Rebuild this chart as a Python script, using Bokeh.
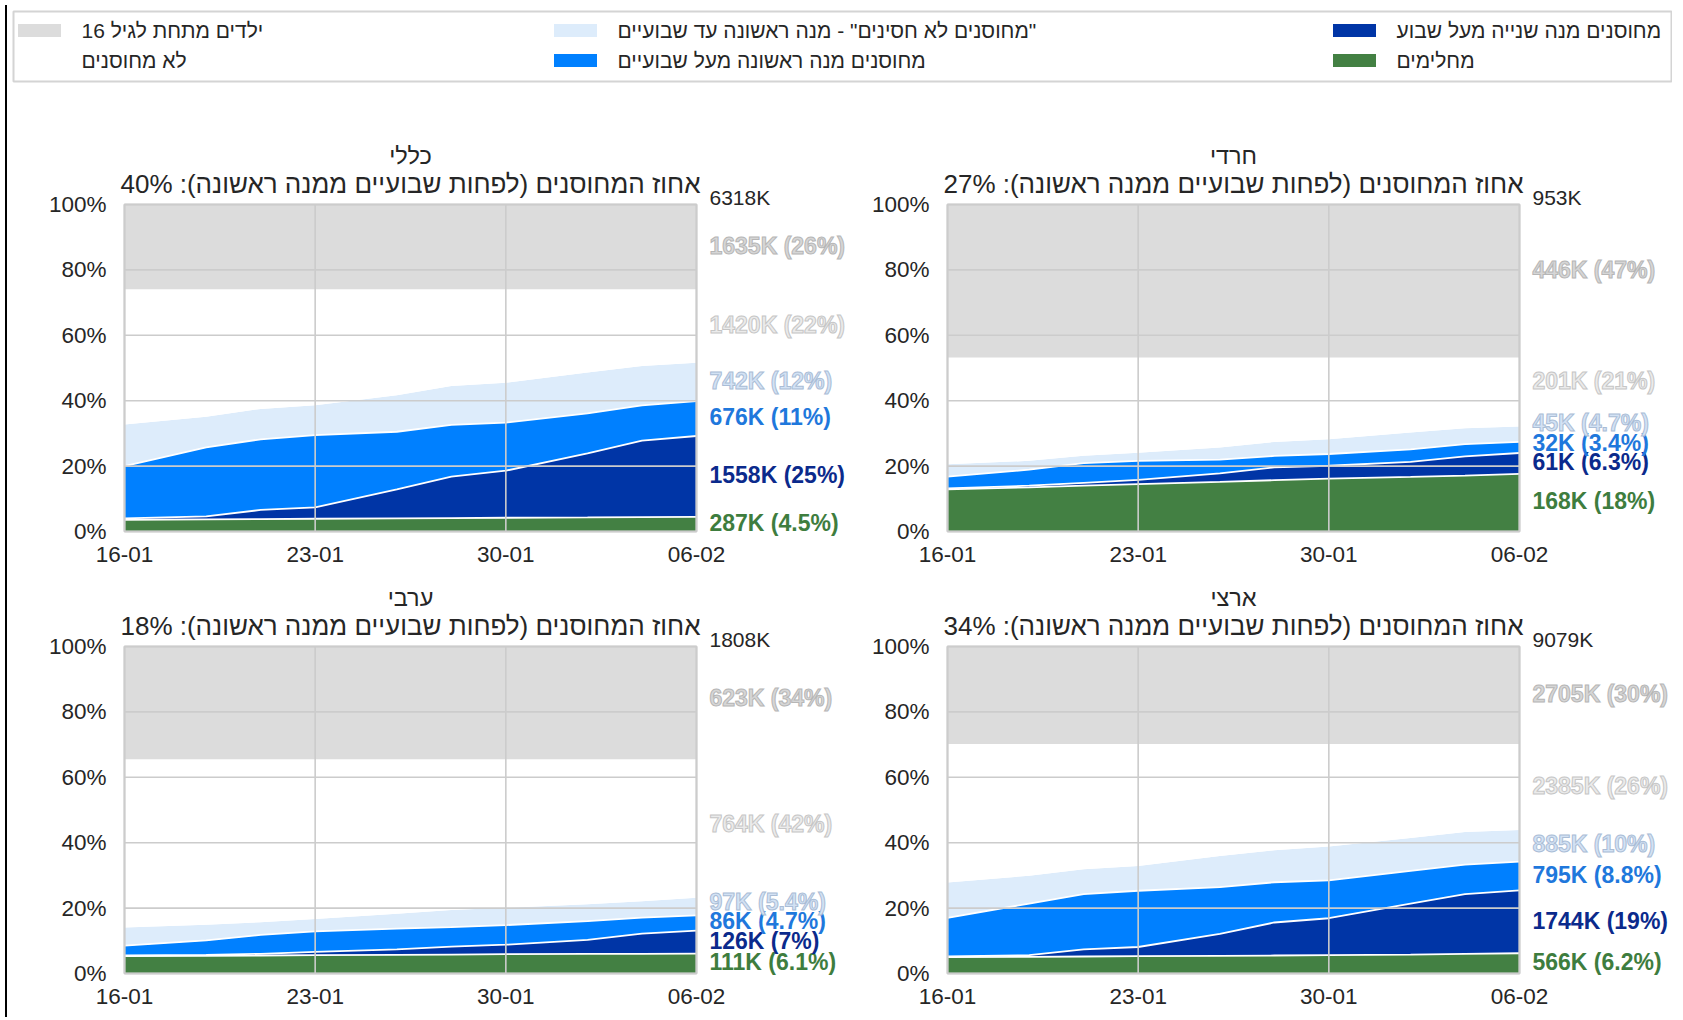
import numpy as np
import pandas as pd
from bokeh.plotting import figure
from bokeh.layouts import column, row
from bokeh.models import (ColumnDataSource, Range1d, FixedTicker, DatetimeTickFormatter,
                          PrintfTickFormatter, Label, Div)
from bokeh.embed import file_html
from bokeh.resources import INLINE

FONT = "Liberation Sans"

# ---------------- data ----------------
dates = ["2021-01-16", "2021-01-19", "2021-01-21", "2021-01-23", "2021-01-26",
         "2021-01-28", "2021-01-30", "2021-02-02", "2021-02-04", "2021-02-06"]
x_tick_dates = ["2021-01-16", "2021-01-23", "2021-01-30", "2021-02-06"]
y_ticks = [0, 20, 40, 60, 80, 100]

layer_keys = ["recovered", "dose2", "dose1", "dose1_recent", "unvaccinated", "under16"]
legend_labels = ["מחלימים", "מחוסנים מנה שנייה מעל שבוע", "מחוסנים מנה ראשונה מעל שבועיים",
                 "\u200f\"מחוסנים לא חסינים\" - מנה ראשונה עד שבועיים", "לא מחוסנים",
                 "ילדים מתחת לגיל 16"]

# percent of population per layer (כללי)
general_recovered = [3.6, 3.7, 3.8, 3.9, 4.0, 4.1, 4.2, 4.3, 4.4, 4.5]
general_dose2 = [0.4, 0.9, 2.8, 3.5, 8.9, 12.7, 14.4, 19.6, 23.4, 24.7]
general_dose1 = [16.0, 21.1, 21.6, 22.1, 17.6, 15.8, 14.7, 12.2, 10.8, 10.7]
general_dose1_recent = [12.7, 9.4, 9.3, 9.1, 11.2, 11.9, 12.2, 12.5, 12.0, 11.7]
general_unvaccinated = [41.4, 39.0, 36.6, 35.5, 32.4, 29.6, 28.6, 25.5, 23.5, 22.5]
general_under16 = [25.9, 25.9, 25.9, 25.9, 25.9, 25.9, 25.9, 25.9, 25.9, 25.9]
general_counts = [287, 1558, 676, 742, 1420, 1635]
general_pcts = [4.5, 25, 11, 12, 22, 26]
general_total = 6318
general_vaccinated_pct = 40

# חרדי
haredi_recovered = [12.9, 13.5, 14.0, 14.5, 15.2, 15.7, 16.2, 16.7, 17.1, 17.6]
haredi_dose2 = [0.3, 0.5, 0.9, 1.3, 2.6, 3.9, 3.9, 4.6, 5.9, 6.4]
haredi_dose1 = [3.6, 4.9, 6.0, 5.8, 4.2, 3.5, 3.6, 3.8, 3.7, 3.4]
haredi_dose1_recent = [3.8, 2.7, 2.3, 2.5, 3.7, 4.3, 4.5, 5.2, 4.9, 4.7]
haredi_unvaccinated = [32.6, 31.6, 30.0, 29.1, 27.5, 25.8, 25.0, 22.9, 21.6, 21.1]
haredi_under16 = [46.8, 46.8, 46.8, 46.8, 46.8, 46.8, 46.8, 46.8, 46.8, 46.8]
haredi_counts = [168, 61, 32, 45, 201, 446]
haredi_pcts = [18, 6.3, 3.4, 4.7, 21, 47]
haredi_total = 953
haredi_vaccinated_pct = 27

# ערבי
arab_recovered = [5.3, 5.4, 5.5, 5.6, 5.7, 5.8, 5.9, 6.0, 6.0, 6.1]
arab_dose2 = [0.2, 0.3, 0.5, 1.0, 1.7, 2.4, 2.9, 4.3, 6.2, 7.0]
arab_dose1 = [3.0, 4.4, 5.8, 6.3, 6.3, 6.0, 6.0, 5.7, 4.9, 4.7]
arab_dose1_recent = [5.6, 4.8, 3.9, 3.8, 4.6, 5.2, 5.3, 5.2, 5.0, 5.4]
arab_unvaccinated = [51.4, 50.6, 49.8, 48.8, 47.2, 46.1, 45.4, 44.3, 43.4, 42.3]
arab_under16 = [34.5, 34.5, 34.5, 34.5, 34.5, 34.5, 34.5, 34.5, 34.5, 34.5]
arab_counts = [111, 126, 86, 97, 764, 623]
arab_pcts = [6.1, 7, 4.7, 5.4, 42, 34]
arab_total = 1808
arab_vaccinated_pct = 18

# ארצי
national_recovered = [5.0, 5.1, 5.2, 5.3, 5.4, 5.5, 5.6, 5.8, 6.0, 6.2]
national_dose2 = [0.2, 0.5, 2.2, 2.8, 6.7, 10.1, 11.3, 15.6, 18.3, 19.2]
national_dose1 = [11.8, 15.8, 16.9, 17.2, 14.3, 12.3, 11.6, 10.0, 9.0, 8.8]
national_dose1_recent = [10.8, 8.5, 7.6, 7.6, 9.5, 9.8, 10.3, 10.0, 10.0, 9.7]
national_unvaccinated = [42.4, 40.3, 38.3, 37.3, 34.3, 32.5, 31.4, 28.8, 26.9, 26.3]
national_under16 = [29.8, 29.8, 29.8, 29.8, 29.8, 29.8, 29.8, 29.8, 29.8, 29.8]
national_counts = [566, 1744, 795, 885, 2385, 2705]
national_pcts = [6.2, 19, 8.8, 10, 26, 30]
national_total = 9079
national_vaccinated_pct = 34

# ---------------- styles ----------------
layer_colors = ["#438043", "#0035a6", "#0080ff", "#ddecfb", "#ffffff", "#dcdcdc"]
label_colors = ["#3e7d3e", "#0b2a8c", "#1f78dc", "#d3e2f4", "#ebebeb", "#d6d6d6"]
label_outlines = [None, None, None, "#aabdd6", "#c6c6c6", "#b6b6b6"]
TEXT = "#262626"
GRID = "#cccccc"
SUBTITLE = "אחוז המחוסנים (לפחות שבועיים ממנה ראשונה): {}%"

BELOW_PX = 12  # frame reaches a little below 0% so that low side labels are not cut
LEFT_PX = 12   # ... and a little left of the first date so that titles are not cut


def ms(d):
    return pd.Timestamp(d).timestamp() * 1000.0


def make_panel(name, layers, counts, pcts, total, vacc_pct, width, height,
               mb_left, mb_bottom, data_w, data_h):
    data = {"date": pd.to_datetime(dates)}
    for k, v in zip(layer_keys, layers):
        data[k] = v
    src = ColumnDataSource(data)

    x0, x1 = ms(dates[0]), ms(dates[-1])
    per_px = (x1 - x0) / data_w
    frame_w = width - (mb_left - LEFT_PX)
    frame_h = height - (mb_bottom - BELOW_PX)
    x_start = x0 - LEFT_PX * per_px
    x_end = x_start + frame_w * per_px
    y_start = -100.0 * BELOW_PX / data_h
    y_end = y_start + 100.0 * frame_h / data_h

    p = figure(width=width, height=height, x_axis_type="datetime",
               x_range=Range1d(x_start, x_end), y_range=Range1d(y_start, y_end),
               output_backend="svg", toolbar_location=None,
               min_border_left=mb_left - LEFT_PX, min_border_right=0,
               min_border_top=0, min_border_bottom=mb_bottom - BELOW_PX,
               background_fill_color="white", border_fill_color="white")
    p.outline_line_color = None
    p.grid.visible = False

    p.varea_stack(stackers=layer_keys, x="date", color=layer_colors, source=src)
    p.vline_stack(stackers=layer_keys[:3], x="date", color="white", line_width=1.8, source=src)

    # grid over the areas, and the frame of the plotting block
    xt = [ms(d) for d in x_tick_dates]
    p.segment(x0=xt, x1=xt, y0=[0] * len(xt), y1=[100] * len(xt),
              line_color=GRID, line_width=1.6)
    p.segment(x0=[x0] * len(y_ticks), x1=[x1] * len(y_ticks), y0=y_ticks, y1=y_ticks,
              line_color=GRID, line_width=1.6)
    p.quad(left=[x0], right=[x1], bottom=[0], top=[100], fill_color=None,
           line_color=GRID, line_width=2)

    # axes
    p.xaxis.ticker = FixedTicker(ticks=xt)
    fmt = "%d-%m"
    p.xaxis.formatter = DatetimeTickFormatter(days=fmt, months=fmt, years=fmt, hours=fmt,
                                              minutes=fmt, seconds=fmt, milliseconds=fmt,
                                              minsec=fmt, hourmin=fmt)
    p.yaxis.ticker = FixedTicker(ticks=y_ticks)
    p.yaxis.formatter = PrintfTickFormatter(format="%d%%")
    for ax in (p.xaxis, p.yaxis):
        ax.axis_line_color = None
        ax.major_tick_line_color = None
        ax.minor_tick_line_color = None
        ax.major_tick_out = 0
        ax.major_tick_in = 0
        ax.major_label_text_font = FONT
        ax.major_label_text_font_size = "22.5px"
        ax.major_label_text_color = TEXT
    p.yaxis.major_label_standoff = 18 - LEFT_PX
    p.xaxis.major_label_standoff = 15 - BELOW_PX

    x_mid = (x0 + x1) / 2

    # titles
    p.add_layout(Label(x=x_mid, y=114.7, text=name, text_align="center", text_baseline="middle",
                       text_font=FONT, text_font_size="23.5px", text_color=TEXT))
    p.add_layout(Label(x=x_mid, y=106.3, text=SUBTITLE.format(vacc_pct), text_align="center",
                       text_baseline="middle", text_font=FONT, text_font_size="26px",
                       text_color=TEXT))
    p.add_layout(Label(x=x1, y=102.2, x_offset=13, text=f"{total}K", text_align="left",
                       text_baseline="middle", text_font=FONT, text_font_size="21px",
                       text_color=TEXT))

    # right-hand labels: centred on each layer's final value, pushed apart if too close
    final = np.array([lay[-1] for lay in layers], dtype=float)
    tops = np.cumsum(final)
    mids = tops - final / 2 + 0.4
    ys = []
    shift = 0.0
    for m in mids:
        y = m + shift
        if ys and y < ys[-1] + 6.0:
            shift += ys[-1] + 6.0 - y
            y = ys[-1] + 6.0
        ys.append(y)
    for i in range(len(layer_keys)):
        txt = f"{counts[i]}K ({pcts[i]:g}%)"
        kw = {}
        if label_outlines[i] is not None:
            kw = dict(text_outline_color=label_outlines[i])
        p.add_layout(Label(x=x1, y=ys[i], x_offset=13, text=txt, text_align="left",
                           text_baseline="middle", text_font=FONT, text_font_size="23px",
                           text_font_style="bold", text_color=label_colors[i], **kw))
    return p


def layers_of(prefix):
    g = globals()
    return [g[f"{prefix}_{k}"] for k in layer_keys]

LW, RW = 842, 819
TH, BH = 480, 436
DATA_W, DATA_H = 572, 327

p_general = make_panel("כללי", layers_of("general"), general_counts, general_pcts, general_total,
                       general_vaccinated_pct, LW, TH, 112, 45, DATA_W, DATA_H)
p_haredi = make_panel("חרדי", layers_of("haredi"), haredi_counts, haredi_pcts, haredi_total,
                      haredi_vaccinated_pct, RW, TH, 93, 45, DATA_W, DATA_H)
p_arab = make_panel("ערבי", layers_of("arab"), arab_counts, arab_pcts, arab_total,
                    arab_vaccinated_pct, LW, BH, 112, 39, DATA_W, DATA_H)
p_national = make_panel("ארצי", layers_of("national"), national_counts, national_pcts,
                        national_total, national_vaccinated_pct, RW, BH, 93, 39, DATA_W, DATA_H)

# ---------------- legend ----------------
LEG_W, LEG_H = 1658, 70
leg = figure(width=1660, height=96, x_range=Range1d(0, LEG_W), y_range=Range1d(0, LEG_H),
             x_axis_type=None, y_axis_type=None, output_backend="svg", toolbar_location=None,
             min_border_left=1, min_border_right=1, min_border_top=11, min_border_bottom=15)
leg.grid.visible = False
leg.outline_line_color = "#d4d4d4"
leg.outline_line_width = 2

order = ["under16", "unvaccinated", "dose1_recent", "dose1", "dose2", "recovered"]
col_swatch_x = [26, 562, 1341]
col_text_x = [68, 604, 1383]
row_y = [51, 21]
sw_x, sw_y, sw_c, tx_x, tx_y, tx_t = [], [], [], [], [], []
for j, key in enumerate(order):
    i = layer_keys.index(key)
    c, r = j // 2, j % 2
    sw_x.append(col_swatch_x[c]); sw_y.append(row_y[r]); sw_c.append(layer_colors[i])
    tx_x.append(col_text_x[c]); tx_y.append(row_y[r]); tx_t.append(legend_labels[i])
leg.rect(x=sw_x, y=sw_y, width=43, height=13, fill_color=sw_c, line_color=None)
leg.text(x=tx_x, y=tx_y, text=tx_t, text_align="left", text_baseline="middle",
         text_font_size="21px", text_color=TEXT, text_font={"value": FONT})

bar = Div(width=2, height=1012, styles={"background-color": "black"})
layout = row(bar, column(leg, row(p_general, p_haredi), row(p_arab, p_national)))

open("out.html", "w").write(file_html(layout, INLINE))
